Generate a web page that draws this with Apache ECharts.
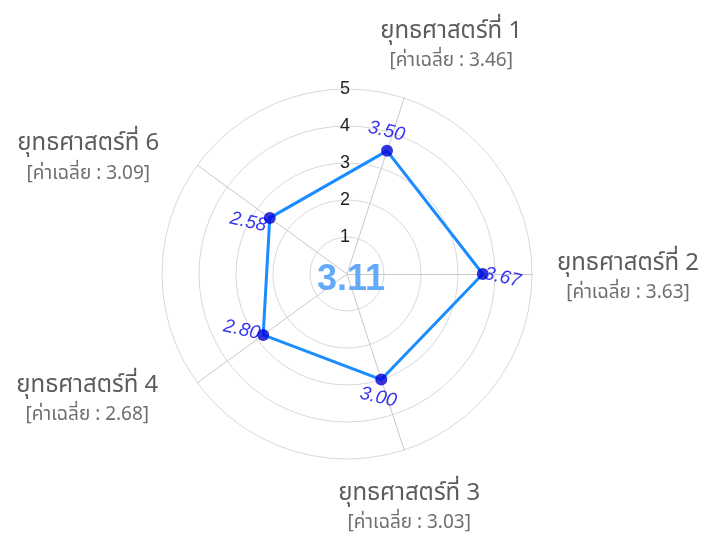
<!DOCTYPE html>
<html>
<head>
<meta charset="utf-8">
<script src="https://cdn.jsdelivr.net/npm/echarts@6/dist/echarts.min.js"></script>
<style>
  html, body { margin: 0; padding: 0; background: #fff; }
  #main { width: 720px; height: 536px; }
</style>
</head>
<body>
<div id="main"></div>
<script>
// ตัวชี้วัด เรียงตามเข็มนาฬิกาเริ่มจากยุทธศาสตร์ที่ 1
var strategyNames = ['ยุทธศาสตร์ที่ 1', 'ยุทธศาสตร์ที่ 2', 'ยุทธศาสตร์ที่ 3', 'ยุทธศาสตร์ที่ 4', 'ยุทธศาสตร์ที่ 6'];
var strategyAverages = ['3.46', '3.63', '3.03', '2.68', '3.09'];
var scores = [3.50, 3.67, 3.00, 2.80, 2.58];
var overallScore = '3.11';
var radiusTicks = [1, 2, 3, 4, 5];
var maxScore = 5;

// ตำแหน่งป้ายค่า (เลื่อนจากจุด) และป้ายชื่อ (เลื่อนจากปลายแกน)
var valueOffsets = [[-5, -19], [20, -1], [1, 18], [-22, 0], [-20, 9]];
var nameOffsets = [[47, -53], [96, 3], [5, 57], [-110, 16], [-109, -8]];

var center = [347, 274];
var radius = 185;
var font = '"Noto Sans", "Noto Sans Thai", Tahoma, sans-serif';

// radar วางตัวชี้วัดทวนเข็มนาฬิกา จึงกลับลำดับ (เริ่มที่ 1 แล้ว 6, 4, 3, 2)
var order = [0];
for (var i = strategyNames.length - 1; i > 0; i--) order.push(i);

var indicators = order.map(function (k) {
    return { name: strategyNames[k], max: maxScore, min: 0 };
});
var radarValues = order.map(function (k) { return scores[k]; });

// มุมในระบบ polar (วัดตามเข็มนาฬิกาจากด้านบน)
var step = 360 / strategyNames.length;
function angleOf(i) { return 90 - 72 + step * i; }

var pointData = scores.map(function (v, i) {
    return { value: [v, angleOf(i)], label: { offset: valueOffsets[i] } };
});

var nameData = strategyNames.map(function (n, i) {
    return {
        value: [maxScore, angleOf(i)],
        name: n,
        avg: strategyAverages[i],
        label: { offset: nameOffsets[i] }
    };
});

var chart = echarts.init(document.getElementById('main'));
chart.setOption({
    animation: false,
    title: {
        text: overallScore,
        left: 346,
        top: 257,
        textAlign: 'center',
        textStyle: { fontSize: 36, fontWeight: 'bold', color: '#64aaf8', fontFamily: 'Arial' }
    },
    radar: {
        center: center,
        radius: radius,
        startAngle: 72,
        shape: 'circle',
        splitNumber: 5,
        indicator: indicators,
        axisName: { show: false },
        axisLine: { lineStyle: { color: '#c8c8c8', width: 1 } },
        splitLine: { lineStyle: { color: '#d8d8d8', width: 1 } },
        splitArea: { show: false },
        axisLabel: { show: false }
    },
    polar: { center: center, radius: radius },
    angleAxis: {
        type: 'value', min: 0, max: 360, startAngle: 90, clockwise: true, show: false
    },
    radiusAxis: {
        type: 'value', min: 0, max: maxScore, interval: 1,
        axisLine: { show: false },
        axisTick: { show: false },
        splitLine: { show: false },
        axisLabel: {
            margin: 2,
            align: 'center',
            fontSize: 18,
            color: '#222',
            fontFamily: 'Arial',
            formatter: function (v) { return radiusTicks.indexOf(v) >= 0 ? String(v) : ''; }
        },
        z: 10
    },
    series: [
        {
            type: 'radar',
            symbol: 'none',
            lineStyle: { color: '#1a8cff', width: 3 },
            data: [{ value: radarValues }]
        },
        {
            type: 'scatter',
            coordinateSystem: 'polar',
            symbolSize: 12,
            itemStyle: { color: '#0000d8' },
            z: 5,
            label: {
                show: true,
                position: 'inside',
                rotate: -13,
                color: '#0000f0',
                fontSize: 19,
                fontStyle: 'italic',
                fontFamily: 'Arial',
                formatter: function (p) { return p.value[0].toFixed(2); }
            },
            data: pointData
        },
        {
            type: 'scatter',
            coordinateSystem: 'polar',
            symbolSize: 1,
            itemStyle: { color: 'transparent' },
            silent: true,
            label: {
                show: true,
                position: 'inside',
                align: 'center',
                verticalAlign: 'middle',
                formatter: function (p) {
                    return '{t|' + p.name + '}\n{s|[ค่าเฉลี่ย : ' + p.data.avg + ']}';
                },
                rich: {
                    t: { fontSize: 24, color: '#333', lineHeight: 32, fontFamily: font, align: 'center' },
                    s: { fontSize: 19, color: '#4a4a4a', lineHeight: 28, fontFamily: font, align: 'center' }
                }
            },
            data: nameData
        }
    ]
});
</script>
</body>
</html>
